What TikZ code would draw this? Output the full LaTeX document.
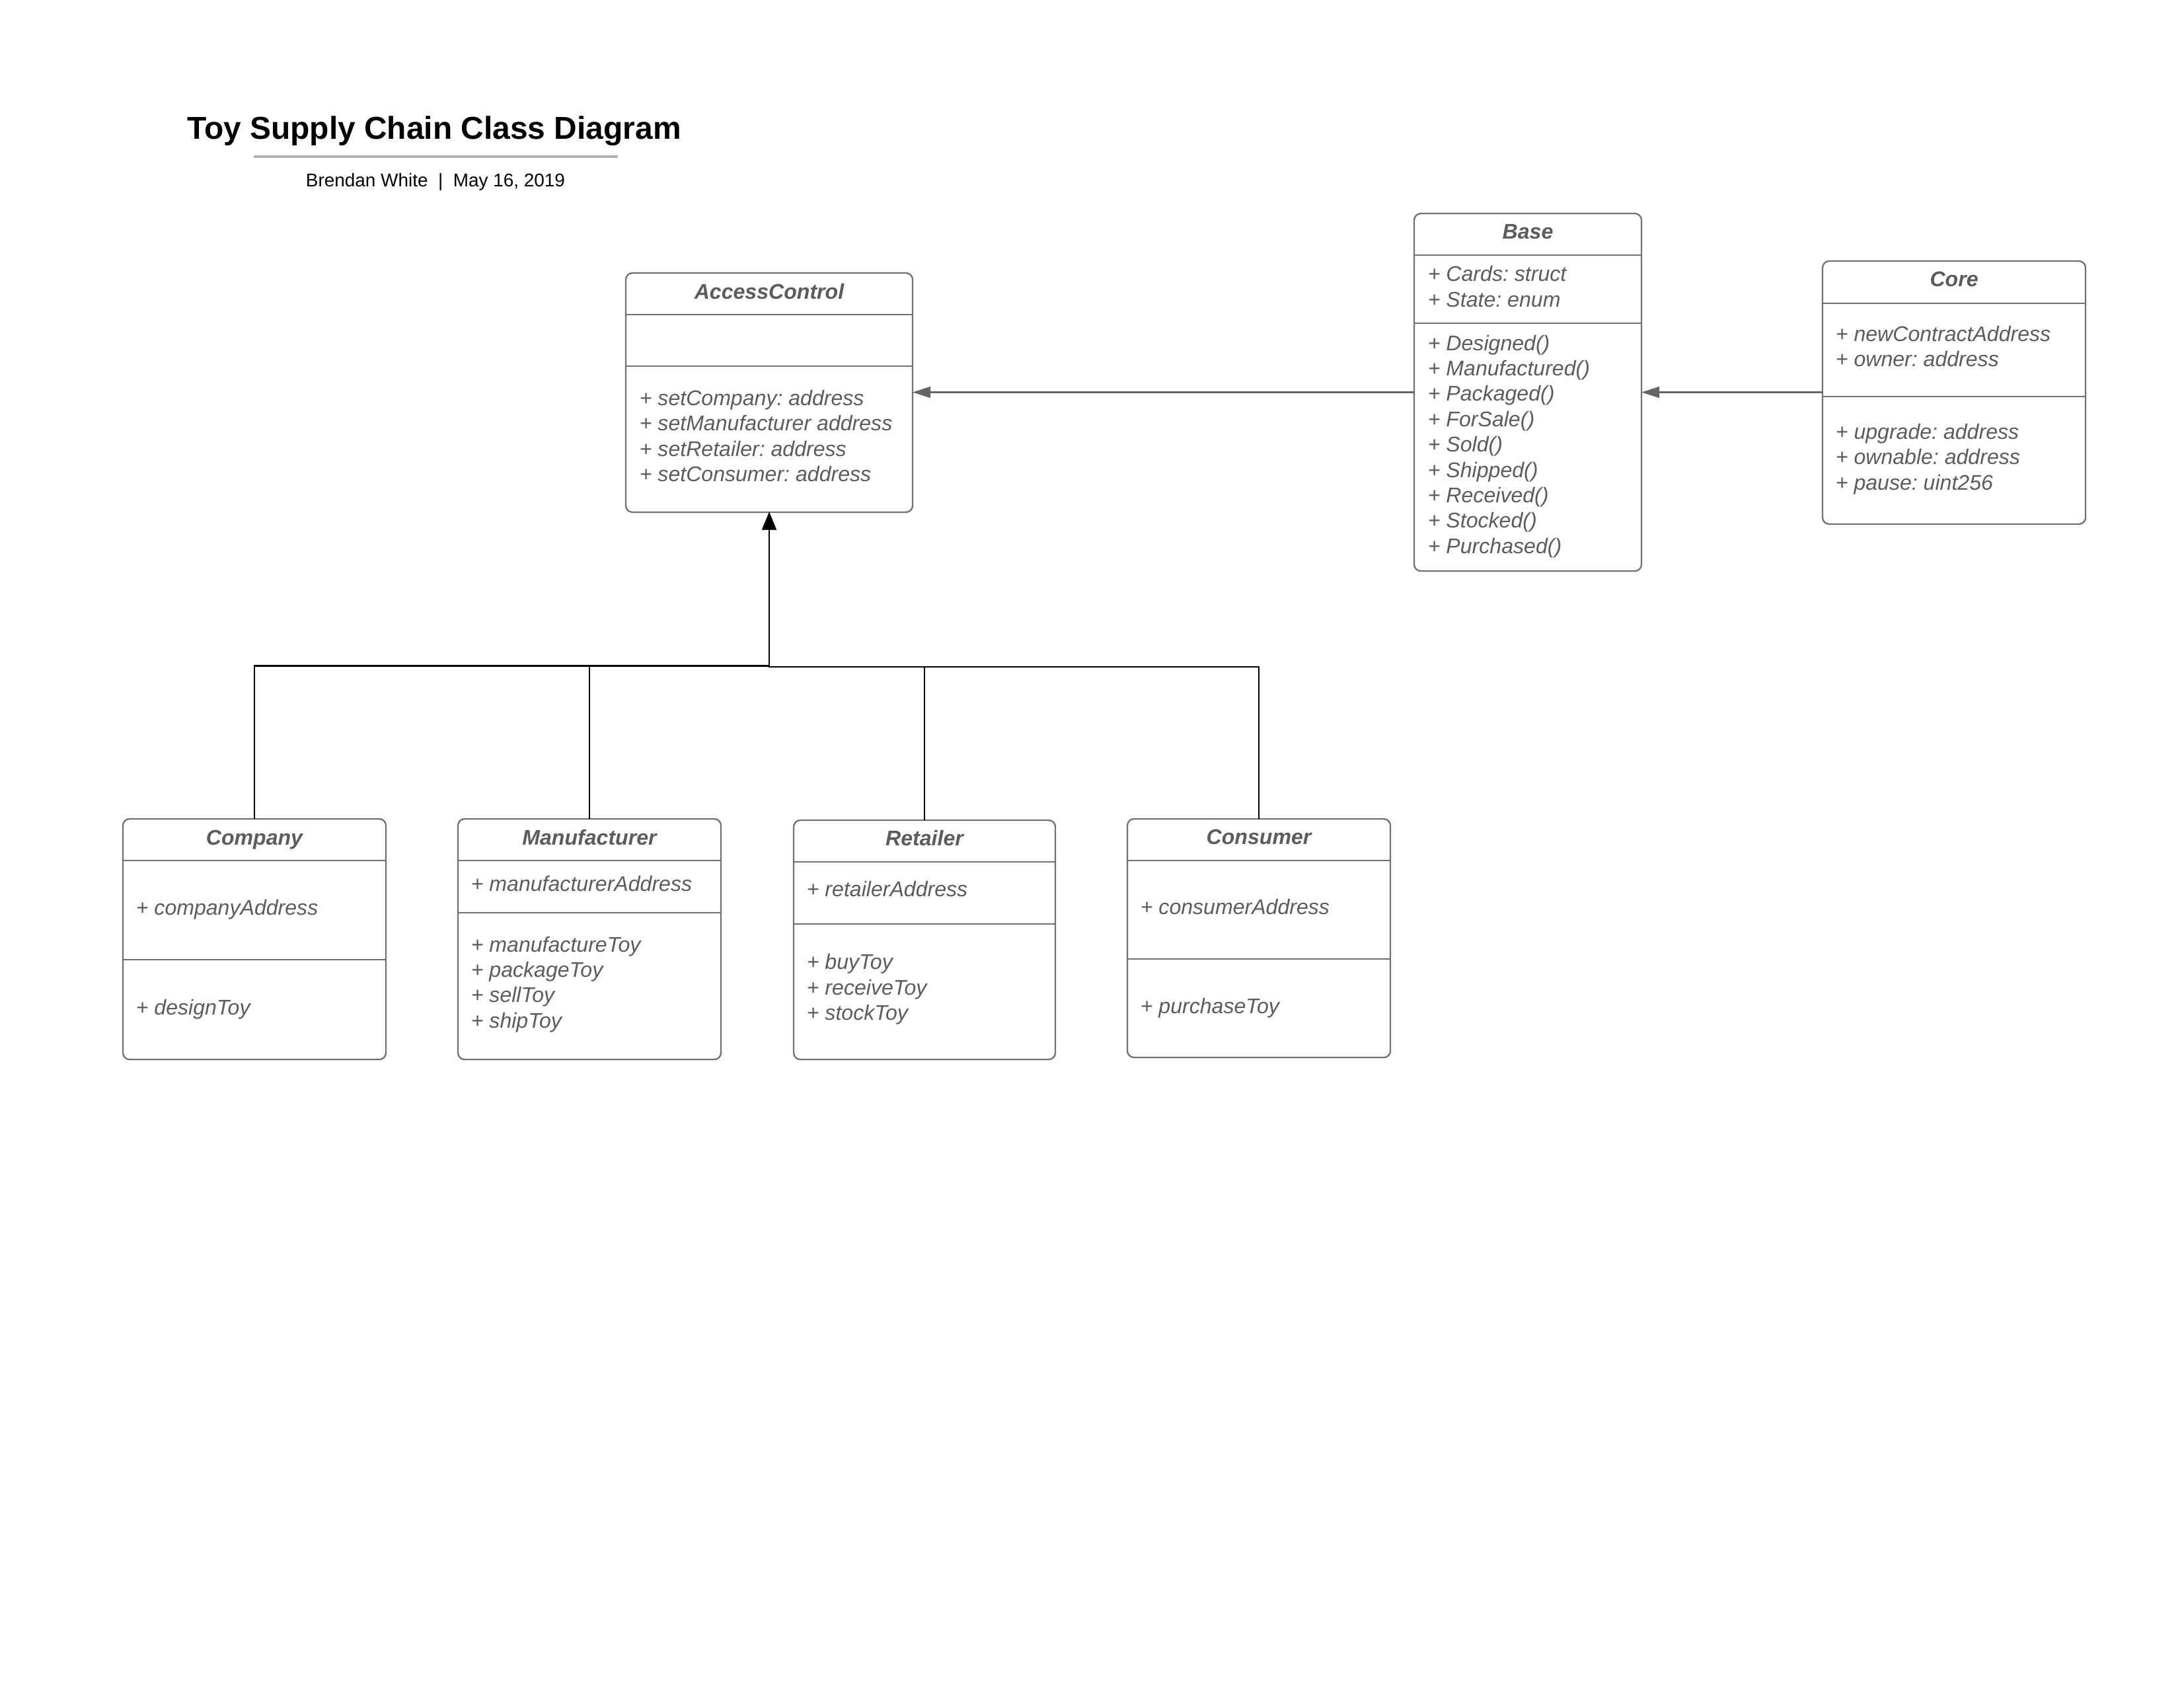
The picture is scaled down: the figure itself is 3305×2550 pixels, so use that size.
\documentclass[tikz,border=0pt]{standalone}
\usepackage{fontspec}
\setmainfont{Liberation Sans}
\usetikzlibrary{arrows.meta}
\frenchspacing

\definecolor{inkgray}{RGB}{92,92,92}
\definecolor{framegray}{RGB}{112,112,112}
\definecolor{rulegray}{RGB}{178,178,178}
\definecolor{linkgray}{RGB}{100,100,100}

\tikzset{
  classframe/.style={draw=framegray, line width=0.55pt, rounded corners=0.85mm,
    inner sep=0pt, outer sep=0pt, fill=white},
  sepline/.style={draw=framegray, line width=0.5pt},
  classname/.style={anchor=base, inner sep=0pt, text=inkgray,
    font=\fontsize{7.7}{9.2}\selectfont\bfseries\itshape},
  member/.style={anchor=base west, inner sep=0pt, text=inkgray,
    font=\fontsize{7.7}{9.2}\selectfont\itshape},
  assoc/.style={draw=linkgray, line width=0.65pt,
    -{Triangle[length=6.5pt, width=4pt]}},
  inherit/.style={draw=black, line width=0.7pt,
    -{Triangle[length=6.3pt, width=5pt]}},
}

% class frame: name, left, top, right, bottom (in 1/300 in units)
\newcommand\umlclass[5]{%
  \node[classframe, minimum width={(#4-#2)*0.24pt}, minimum height={(#5-#3)*0.24pt}]
    (#1) at ({(#2+#4)/2},{(#3+#5)/2}) {};}
% horizontal compartment separator at height #2
\newcommand\umlsep[2]{\draw[sepline] (#1.west |- 0,#2) -- (#1.east |- 0,#2);}
% member lines: prefix, x, first baseline, list
\newcommand\umlmembers[4]{%
  \foreach \t [count=\i] in {#4}
    \node[member] (#1-\i) at (#2, {#3+(\i-1)*38.4}) {\t};}

\begin{document}
\begin{tikzpicture}[x=0.24pt, y=-0.24pt]
  \useasboundingbox (0,0) rectangle (3305,2550);

  % heading
  \node[anchor=base, inner sep=0pt, font=\fontsize{11.5}{13}\selectfont\bfseries]
    (heading) at (657,210) {Toy Supply Chain Class Diagram};
  \coordinate (ruleL) at (384,237);
  \coordinate (ruleR) at (935,237);
  \draw[rulegray, line width=1pt] (ruleL) -- (ruleR);
  \node[anchor=base, inner sep=0pt, font=\fontsize{6.7}{8}\selectfont]
    (byline) at (659,282) {Brendan White \ | \ May 16, 2019};

  % AccessControl
  \umlclass{ac}{947}{413}{1381}{775}
  \umlsep{ac}{476}
  \umlsep{ac}{554}
  \node[classname] (ac-name) at (ac.center |- 0,452) {AccessControl};
  \umlmembers{acm}{967}{613.3}{+ setCompany: address, + setManufacturer address,
    + setRetailer: address, + setConsumer: address}

  % Base
  \umlclass{base}{2140}{323}{2484}{864}
  \umlsep{base}{386}
  \umlsep{base}{489}
  \node[classname] (base-name) at (base.center |- 0,361) {Base};
  \umlmembers{basea}{2160}{425.6}{+ Cards: struct, + State: enum}
  \umlmembers{basem}{2160}{530}{+ Designed(), + Manufactured(), + Packaged(),
    + ForSale(), + Sold(), + Shipped(), + Received(), + Stocked(), + Purchased()}

  % Core
  \umlclass{core}{2758}{395}{3156}{793}
  \umlsep{core}{459}
  \umlsep{core}{600}
  \node[classname] (core-name) at (core.center |- 0,433) {Core};
  \umlmembers{corea}{2777}{516.5}{+ newContractAddress, + owner: address}
  \umlmembers{corem}{2777}{664.4}{+ upgrade: address, + ownable: address, + pause: uint256}

  % Company
  \umlclass{company}{186}{1239}{584}{1603}
  \umlsep{company}{1302}
  \umlsep{company}{1452}
  \node[classname] (company-name) at (company.center |- 0,1278) {Company};
  \umlmembers{companya}{205}{1384}{+ companyAddress}
  \umlmembers{companym}{205}{1535}{+ designToy}

  % Manufacturer
  \umlclass{manu}{693}{1239}{1091}{1603}
  \umlsep{manu}{1302}
  \umlsep{manu}{1381}
  \node[classname] (manu-name) at (manu.center |- 0,1278) {Manufacturer};
  \umlmembers{manua}{712}{1348.3}{+ manufacturerAddress}
  \umlmembers{manum}{712}{1440}{+ manufactureToy, + packageToy, + sellToy, + shipToy}

  % Retailer
  \umlclass{retail}{1201}{1241}{1597}{1603}
  \umlsep{retail}{1304}
  \umlsep{retail}{1398}
  \node[classname] (retail-name) at (retail.center |- 0,1279) {Retailer};
  \umlmembers{retaila}{1220}{1356.7}{+ retailerAddress}
  \umlmembers{retailm}{1220}{1466.7}{+ buyToy, + receiveToy, + stockToy}

  % Consumer
  \umlclass{consumer}{1706}{1239}{2104}{1600}
  \umlsep{consumer}{1302}
  \umlsep{consumer}{1451}
  \node[classname] (consumer-name) at (consumer.center |- 0,1277) {Consumer};
  \umlmembers{consumera}{1725}{1383.3}{+ consumerAddress}
  \umlmembers{consumerm}{1725}{1533.3}{+ purchaseToy}

  % associations
  \draw[assoc] (core.west |- 0,593.5) -- (base.east |- 0,593.5);
  \draw[assoc] (base.west |- 0,593.5) -- (ac.east |- 0,593.5);

  % generalisation tree
  \coordinate (busL) at (1164,1007.5);
  \coordinate (busR) at (1164,1009);
  \draw[inherit] (company.north) |- (busL) -- (ac.south);
  \draw[inherit] (manu.north) |- (busL) -- (ac.south);
  \draw[inherit] (retail.north) |- (busR) -- (ac.south);
  \draw[inherit] (consumer.north) |- (busR) -- (ac.south);
\end{tikzpicture}
\end{document}
